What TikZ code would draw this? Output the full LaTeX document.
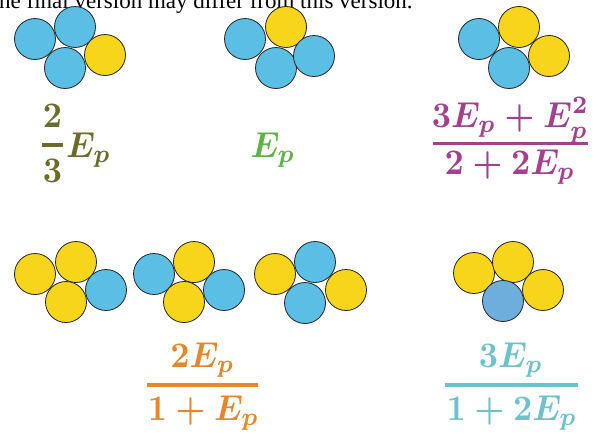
\documentclass[tikz,border=0pt]{standalone}
\usepackage{graphicx}
\usepackage{amsmath,bm}
\usepackage{fontspec}
\newfontfamily\hdr{Liberation Serif}
\definecolor{cblue}{HTML}{5BBEE5}
\definecolor{cblueb}{HTML}{6DAEDD}
\definecolor{cyel}{HTML}{F6D51A}
\definecolor{colive}{HTML}{6B6C2C}
\definecolor{cgreen}{HTML}{5DB446}
\definecolor{cmag}{HTML}{A4418F}
\definecolor{corange}{HTML}{E8862A}
\definecolor{cteal}{HTML}{6EC2CC}
\tikzset{
  ball/.style={circle, draw=black!85, line width=0.8pt, minimum size=41pt, inner sep=0pt},
  bb/.style={ball, fill=cblue},
  bb2/.style={ball, fill=cblueb},
  yb/.style={ball, fill=cyel},
  frm/.style={inner sep=0pt, anchor=base},
  fbar/.style={line width=3.4pt}
}
\newcommand{\mybig}[1]{\scalebox{3.35}[3.6]{\boldmath$#1$}}
\begin{document}
\begin{tikzpicture}[x=1pt,y=-1pt]
\useasboundingbox (0,0) rectangle (600,434);
\node[font=\hdr\fontsize{23}{27}\selectfont, anchor=base west, inner sep=0pt] (hd) at (-1,8.5) {he final version may differ from this version.};
% group 1
\node[bb] (g1a) at (35,39) {};
\node[bb] (g1b) at (75,27) {};
\node[bb] (g1c) at (65,68) {};
\node[yb] (g1d) at (105,55) {};
% group 2
\node[bb] (g2a) at (245,39) {};
\node[yb] (g2b) at (286,27) {};
\node[bb] (g2c) at (276,68) {};
\node[bb] (g2d) at (314,56) {};
% group 3
\node[bb] (g3a) at (479,39) {};
\node[yb] (g3b) at (519,27) {};
\node[bb] (g3c) at (509,68) {};
\node[yb] (g3d) at (549,56) {};
% group 4
\node[yb] (g4a) at (35,274) {};
\node[yb] (g4b) at (76,262) {};
\node[yb] (g4c) at (66,302) {};
\node[bb] (g4d) at (106,290) {};
% group 5
\node[bb] (g5a) at (154,274) {};
\node[yb] (g5b) at (194,262) {};
\node[yb] (g5c) at (184,302) {};
\node[bb] (g5d) at (224,290) {};
% group 6
\node[yb] (g6a) at (275,274) {};
\node[bb] (g6b) at (315,262) {};
\node[bb] (g6c) at (305,303) {};
\node[yb] (g6d) at (346,290) {};
% group 7
\node[yb] (g7a) at (474,273) {};
\node[yb] (g7b) at (513,262) {};
\node[bb2] (g7c) at (503,301) {};
\node[yb] (g7d) at (543,290) {};
% formula 1
\node[frm, text=colive] (f1n) at (52.5,127) {\mybig{2}};
\node[frm, text=colive] (f1d) at (52.5,182) {\mybig{3}};
\draw[fbar, colive] (42,145) -- (63,145);
\node[frm, anchor=base west, text=colive] (f1e) at (66,157) {\mybig{E_p}};
% formula 2
\node[frm, text=cgreen] (f2) at (273,157) {\mybig{E_p}};
% formula 3
\node[frm, text=cmag] (f3n) at (510.5,127) {\mybig{3E_p+E_p^2}};
\node[frm, text=cmag] (f3d) at (510,174) {\mybig{2+2E_p}};
\draw[fbar, cmag] (433,143.5) -- (588,143.5);
% formula 4
\node[frm, text=corange] (f4n) at (202.5,367) {\mybig{2E_p}};
\node[frm, text=corange] (f4d) at (203.5,420) {\mybig{1+E_p}};
\draw[fbar, corange] (147,385) -- (258,385);
% formula 5
\node[frm, text=cteal] (f5n) at (511,367) {\mybig{3E_p}};
\node[frm, text=cteal] (f5d) at (512,420) {\mybig{1+2E_p}};
\draw[fbar, cteal] (445,385) -- (578,385);
\end{tikzpicture}
\end{document}
